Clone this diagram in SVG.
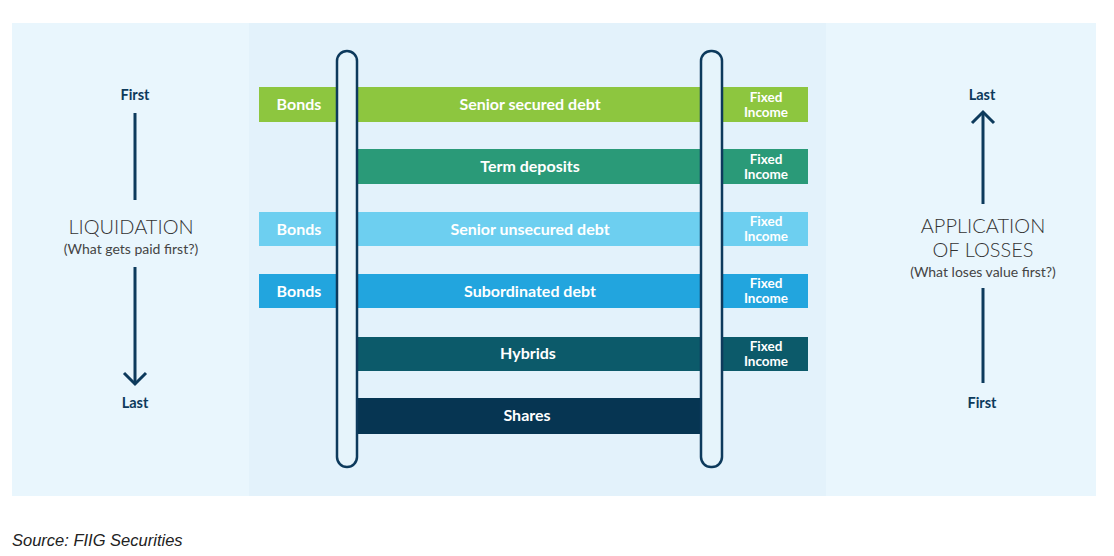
<svg xmlns="http://www.w3.org/2000/svg" width="1114" height="556" viewBox="0 0 1114 556">
<style>
.lbl{font-family:Lato,"Open Sans",sans-serif;font-weight:700;fill:#ffffff;text-anchor:middle}
.big{font-size:16px}
.fi{font-size:13.5px}
.side{font-family:Lato,"Open Sans",sans-serif;font-weight:700;fill:#0d3a5c;font-size:14.5px;text-anchor:middle}
.title{font-family:Lato,"Open Sans",sans-serif;font-weight:300;fill:#333333;font-size:20px;text-anchor:middle}
.sub{font-family:Lato,"Open Sans",sans-serif;font-weight:400;fill:#444444;font-size:14px;text-anchor:middle}
.ln{stroke:#0d3a5c;stroke-width:3;fill:none}
.rail{fill:#e6f4fb;stroke:#0d3a5c;stroke-width:2.5}
</style>
<rect width="1114" height="556" fill="#ffffff"/>
<rect x="12" y="23" width="1084" height="473" fill="#e9f6fd"/>
<rect x="249" y="23" width="577" height="473" fill="#e3f2fb"/>
<g id="row1">
<rect x="259" y="87" width="549" height="35" fill="#8dc63f"/>
<text class="lbl big" x="299" y="110">Bonds</text>
<text class="lbl big" x="530" y="110">Senior secured debt</text>
<text class="lbl fi" x="766" y="102">Fixed</text>
<text class="lbl fi" x="766" y="117">Income</text>
</g>
<g id="row2">
<rect x="358" y="149" width="450" height="35" fill="#2a9a78"/>
<text class="lbl big" x="530" y="172">Term deposits</text>
<text class="lbl fi" x="766" y="164">Fixed</text>
<text class="lbl fi" x="766" y="179">Income</text>
</g>
<g id="row3">
<rect x="259" y="212" width="549" height="34" fill="#6dcff0"/>
<text class="lbl big" x="299" y="235">Bonds</text>
<text class="lbl big" x="530" y="235">Senior unsecured debt</text>
<text class="lbl fi" x="766" y="226">Fixed</text>
<text class="lbl fi" x="766" y="241">Income</text>
</g>
<g id="row4">
<rect x="259" y="274" width="549" height="34" fill="#22a5de"/>
<text class="lbl big" x="299" y="297">Bonds</text>
<text class="lbl big" x="530" y="297">Subordinated debt</text>
<text class="lbl fi" x="766" y="288">Fixed</text>
<text class="lbl fi" x="766" y="303">Income</text>
</g>
<g id="row5">
<rect x="358" y="337" width="450" height="34" fill="#0c5a6a"/>
<text class="lbl big" x="528" y="359">Hybrids</text>
<text class="lbl fi" x="766" y="351">Fixed</text>
<text class="lbl fi" x="766" y="366">Income</text>
</g>
<g id="row6">
<rect x="358" y="398" width="343" height="36" fill="#063552"/>
<text class="lbl big" x="527" y="421">Shares</text>
</g>
<g id="rails">
<rect class="rail" x="337" y="51" width="20" height="416" rx="10"/>
<rect class="rail" x="701" y="51" width="21" height="416" rx="10"/>
</g>
<g id="liquidation">
<text class="side" x="135" y="100">First</text>
<text class="title" x="131" y="234">LIQUIDATION</text>
<text class="sub" x="131" y="254">(What gets paid first?)</text>
<text class="side" x="135" y="408">Last</text>
</g>
<g id="losses">
<text class="side" x="982" y="100">Last</text>
<text class="title" x="983" y="233">APPLICATION</text>
<text class="title" x="983" y="257">OF LOSSES</text>
<text class="sub" x="983" y="277">(What loses value first?)</text>
<text class="side" x="982" y="408">First</text>
</g>
<g id="connectors">
<line class="ln" x1="135" y1="113" x2="135" y2="200"/>
<line class="ln" x1="135" y1="267" x2="135" y2="384"/>
<polyline class="ln" points="124,373 135,384 146,373"/>
<line class="ln" x1="983" y1="112" x2="983" y2="204"/>
<polyline class="ln" points="972,123 983,112 994,123"/>
<line class="ln" x1="983" y1="288" x2="983" y2="383"/>
</g>
<text x="12" y="546" font-family="'Liberation Sans',sans-serif" font-style="italic" font-size="16.5" fill="#222222">Source: FIIG Securities</text>
</svg>
